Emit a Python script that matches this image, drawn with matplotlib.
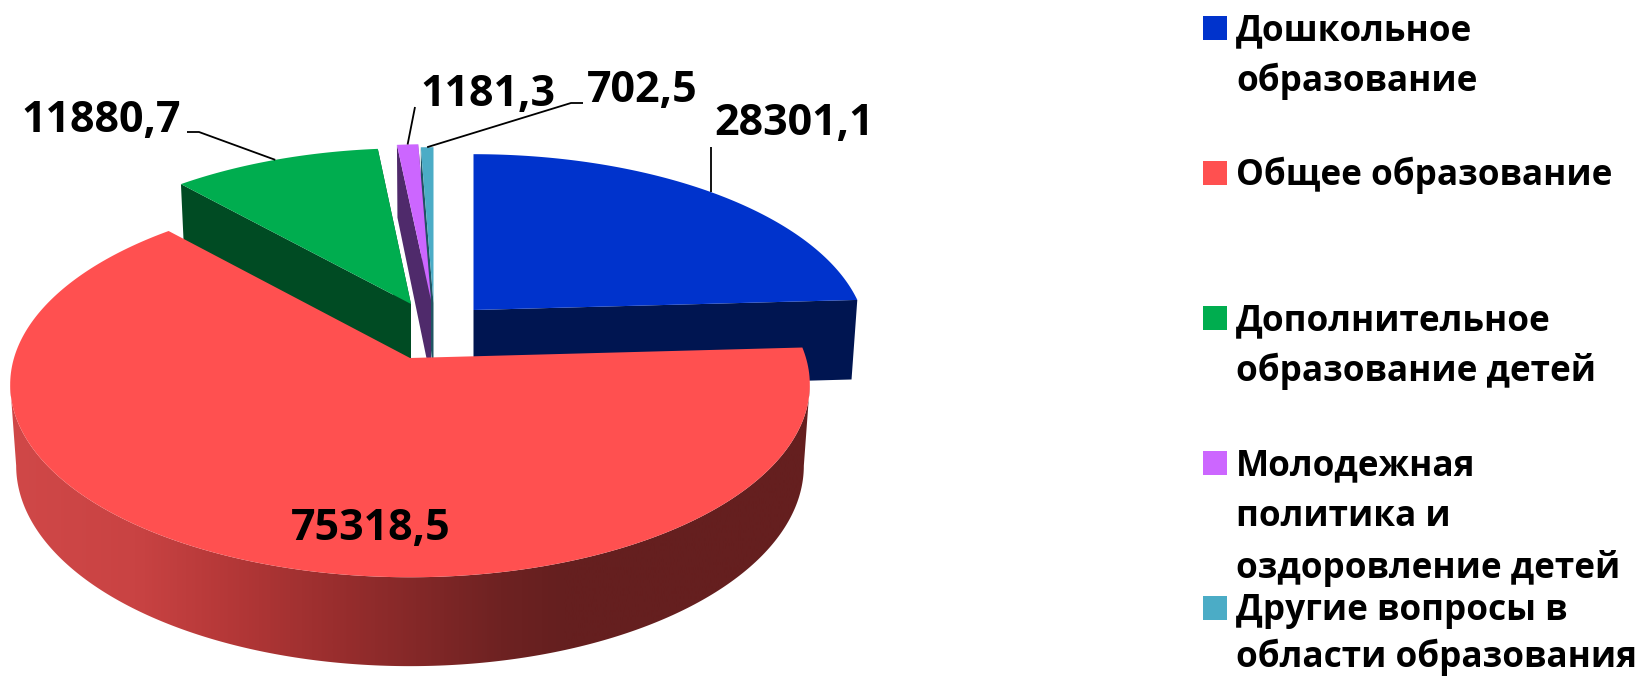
import numpy as np
import matplotlib
matplotlib.use("Agg")
import matplotlib.pyplot as plt
from matplotlib.patches import Polygon, Rectangle
from matplotlib.colors import LinearSegmentedColormap

# ---- data ----
categories = [["Дошкольное", "образование"],
              ["Общее образование"],
              ["Дополнительное", "образование детей"],
              ["Молодежная", "политика и", "оздоровление детей"],
              ["Другие вопросы в", "области образования"]]
values = [28301.1, 75318.5, 11880.7, 1181.3, 702.5]
value_labels = ["28301,1", "75318,5", "11880,7", "1181,3", "702,5"]

# ---- styles and layout (pixels) ----
top_colors = ["#0033CC", "#FF5050", "#00AD4F", "#CC66FF", "#4BACC6"]
cut_colors = ["#001551", "#651F1F", "#004B23", "#4F2A6B", "#1F5563"]
apex = [(473.5, 310), (410, 358), (411, 304), (431, 300), (433.5, 303)]
radius_x = [388, 396, 385, 395, 395]
radius_y = [182, 189, 182, 182, 182]
persp = [0.168, 0.138, 0.168, 0.168, 0.168]
DEPTH, PERSP_BASE, BASE_SHRINK = 80, 0.10, 0.985
label_xy = [(794.5, 135), (371, 540), (101.5, 132), (487.5, 106), (642, 102)]
leader_start = [[(None, 147)], None, [(187, 132), (199, 132)], [(415, 107)], [(583, 103), (571, 103)]]
legend_x, legend_y0, legend_step = 1203, 16, 145
swatch_w, swatch_h = 24, 24
text_x = 1236
line_pitch = [51.5, 51.5, 51.5, 51.5, 47.5]

W, H = 1637, 677
fig = plt.figure(figsize=(W / 100, H / 100), dpi=100)
ax = fig.add_axes([0, 0, 1, 1])
ax.set_xlim(0, W)
ax.set_ylim(H, 0)
ax.axis("off")

total = sum(values)
edges = np.concatenate([[0], np.cumsum(values)]) / total * 2 * np.pi


def project(i, theta, r=1.0):
    u, v = r * np.sin(theta), r * np.cos(theta)
    w = 1 + persp[i] * v
    return apex[i][0] + radius_x[i] * u / w, apex[i][1] - radius_y[i] * v / w


def lower(i, x, y, theta):
    w = 1 + PERSP_BASE * np.cos(theta)
    return apex[i][0] + (x - apex[i][0]) * BASE_SHRINK, y + DEPTH / w


def arc(i, t0, t1):
    t = np.linspace(t0, t1, 240)
    x, y = project(i, t)
    return x, y, t


# cut faces (behind everything else)
for i, z in ((0, 1), (4, 1.1), (3, 1.2), (2, 1.3)):
    for t in (edges[i], edges[i + 1]):
        if i == 0 and t == edges[0]:
            continue
        if i == 4 and t == edges[5]:
            continue
        ox, oy = project(i, t)
        bx, by = lower(i, ox, oy, t)
        ax0, ay0 = apex[i]
        ax.add_patch(Polygon([(ax0, ay0), (ox, oy), (bx, by), (ax0, ay0 + DEPTH)],
                             closed=True, fc=cut_colors[i], ec="none", zorder=z))

# outer wall of the large slice, with horizontal shading; it spans the silhouette
silhouette = np.arccos(-persp[1])
x, y, t = arc(1, silhouette, 2 * np.pi - silhouette)
bx, by = lower(1, x, y, t)
wall = Polygon(np.r_[np.c_[x, y], np.c_[bx, by][::-1]], closed=True, fc="none", ec="none", zorder=2)
ax.add_patch(wall)
shade = LinearSegmentedColormap.from_list(
    "wall", [(0.0, "#D04848"), (0.155, "#C94343"), (0.27, "#B53838"), (0.40, "#9A2E2E"),
             (0.61, "#6E2222"), (0.687, "#651F1F"), (1.0, "#651F1F")])
im = ax.imshow(np.linspace(0, 1, 512)[None, :], cmap=shade, aspect="auto",
               extent=(10, 815, H, 0), zorder=2, interpolation="bilinear")
im.set_clip_path(wall)
ax.set_xlim(0, W)
ax.set_ylim(H, 0)

# top faces
for i in range(len(values)):
    x, y, _ = arc(i, edges[i], edges[i + 1])
    pts = np.r_[[apex[i]], np.c_[x, y]]
    ax.add_patch(Polygon(pts, closed=True, fc=top_colors[i], ec="none", zorder=3))

# leader lines and value labels
for i, lab in enumerate(value_labels):
    if leader_start[i] is not None:
        mid = (edges[i] + edges[i + 1]) / 2
        ex, ey = project(i, mid)
        pts = [(ex if px is None else px, py) for px, py in leader_start[i]] + [(ex, ey)]
        ax.plot(*zip(*pts), color="black", lw=1.3, zorder=4, solid_capstyle="butt")
    ax.text(label_xy[i][0], label_xy[i][1], lab, family="Open Sans", weight="bold",
            fontsize=31, ha="center", va="baseline", color="black", zorder=5)

# legend
for i, lines in enumerate(categories):
    y0 = legend_y0 + i * legend_step
    ax.add_patch(Rectangle((legend_x, y0), swatch_w, swatch_h, fc=top_colors[i], ec="none", zorder=3))
    for j, line in enumerate(lines):
        ax.text(text_x, y0 + swatch_h + j * line_pitch[i], line, family="Open Sans", weight="bold",
                fontsize=25.3, ha="left", va="baseline", color="black", zorder=5)

fig.savefig("out.png", dpi=100, facecolor="white")
